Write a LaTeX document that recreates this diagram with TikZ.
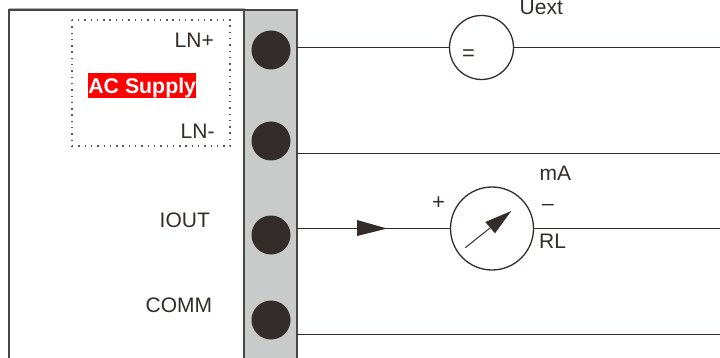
\documentclass[tikz,border=0pt]{standalone}
\usepackage{fontspec}
\setmainfont{Liberation Sans}
\definecolor{ink}{HTML}{332C2A}
\definecolor{strip}{HTML}{C9CBCA}
\definecolor{boxline}{HTML}{4A4645}
\tikzset{
  lbl/.style={anchor=base west,inner sep=0pt,text=ink,font=\fontsize{21}{24}\selectfont},
  terminal/.style={circle,fill=ink,draw=none,minimum size=39pt,inner sep=0pt},
  meter/.style={circle,draw=ink,line width=1.3pt,fill=white,inner sep=0pt},
  wire/.style={draw=ink,line width=1.5pt},
  frameline/.style={draw=boxline,line width=1.8pt}
}
\begin{document}
\begin{tikzpicture}[x=1pt,y=-1pt]
\useasboundingbox (0,0) rectangle (720,358);
% housing and terminal strip
\fill[white] (0,0) rectangle (720,358);
\draw[draw=black!30,line width=0.8pt] (9,8.4) -- (245,8.4);
\fill[strip] (244,10) rectangle (297,358);
\draw[frameline] (9.3,358) -- (9.3,10.3) -- (297,10.3) -- (297,358);
\draw[frameline] (244.3,10.3) -- (244.3,358);
% dotted group
\draw[draw=ink!80,line width=1.4pt,dash pattern=on 1.4pt off 4.9pt] (72,20) rectangle (230,146);
% terminals
\node[terminal] (t1) at (271,50) {};
\node[terminal] (t2) at (271,141) {};
\node[terminal] (t3) at (271,235) {};
\node[terminal] (t4) at (271,320) {};
% instruments
\node[meter,minimum size=64pt] (volt) at (481.5,47.5) {};
\node[meter,minimum size=83pt] (amp) at (492,228.5) {};
% wire ends
\coordinate (a1) at (297,47.5);
\coordinate (b1) at (720,47.5);
\coordinate (a2) at (297,153.5);
\coordinate (b2) at (720,153.5);
\coordinate (a3) at (297,228.5);
\coordinate (b3) at (720,228.5);
\coordinate (a4) at (297,334.5);
\coordinate (b4) at (720,334.5);
\draw[wire] (a1) -- (volt.west);
\draw[wire] (volt.east) -- (b1);
\draw[wire] (a2) -- (b2);
\draw[wire] (a3) -- (amp.west);
\draw[wire] (amp.east) -- (b3);
\draw[wire] (a4) -- (b4);
% flow arrowhead
\fill[ink] (357,220) -- (387,228.5) -- (357,236) -- cycle;
% needle
\draw[draw=ink,line width=1pt] (465.3,247.7) -- (490,228);
\fill[ink] (511.3,211) -- (485.3,222) -- (495,233.3) -- cycle;
% labels
\node[lbl] (lnp) at (174.5,48) {LN+};
\node[lbl] (lnm) at (180.5,139) {LN-};
\node[lbl] (iout) at (159.5,227) {IOUT};
\node[lbl] (comm) at (145.5,312) {COMM};
\node[lbl] (uext) at (519.5,15) {Uext};
\node[lbl] (ma) at (539.5,181) {mA};
\node[lbl,font=\fontsize{22}{24}\selectfont] (plus) at (432,209.5) {+};
\node[lbl] (minus) at (542,211) {–};
\node[lbl] (rl) at (539,248) {RL};
\node[lbl,font=\fontsize{22}{24}\selectfont] (eq) at (461.8,60.5) {=};
\node[anchor=north west,fill=red,text=white,inner sep=0pt,minimum width=108pt,text height=20pt,text depth=5pt,font=\fontsize{21.3}{24}\selectfont\bfseries] (ac) at (88,73) {AC Supply};
\end{tikzpicture}
\end{document}
